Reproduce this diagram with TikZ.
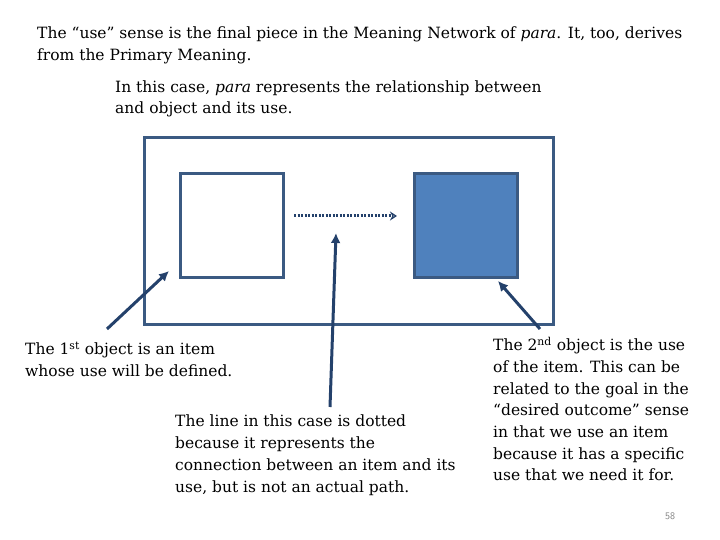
\documentclass[tikz,border=0pt]{standalone}
\usepackage{fontspec}
\setmainfont{DejaVu Serif}
\newfontfamily\topfont{DejaVu Serif}
\newfontfamily\lowfont{DejaVu Serif}
\usetikzlibrary{arrows.meta}
\definecolor{outl}{HTML}{3B5A82}
\definecolor{fillb}{HTML}{4F81BD}
\definecolor{arr}{HTML}{24416B}
\tikzset{
  toptext/.style={anchor=base west, inner sep=0pt, font=\topfont\fontsize{15.5}{22}\selectfont},
  lowtext/.style={anchor=north west, inner sep=0pt, align=left, font=\lowfont\fontsize{15.5}{21.7}\selectfont},
  box/.style={draw=outl, line width=3pt},
  pointer/.style={draw=arr, line width=3pt, -{Latex[length=10pt,width=10pt]}},
}
\begin{document}
\begin{tikzpicture}[x=1pt,y=-1pt]
\useasboundingbox (0,0) rectangle (720,540);
\node[toptext] (t1) at (37,39) {The “use” sense is the final piece in the Meaning Network of \textit{para}. It, too, derives};
\node[toptext] (t2) at (37,61) {from the Primary Meaning.};
\node[toptext] (t3) at (115,93) {In this case, \textit{para} represents the relationship between};
\node[toptext] (t4) at (115,114) {and object and its use.};

\draw[box] (144,138) rectangle (553,324);
\node[box, minimum width=103pt, minimum height=103pt, inner sep=0pt] (a) at (231.5,225.5) {};
\node[box, fill=fillb, minimum width=103pt, minimum height=103pt, inner sep=0pt] (b) at (465.5,225.5) {};
\coordinate (ds) at (294,216);
\coordinate (de) at (397,216);
\draw[arr, line width=3pt, dash pattern=on 2pt off 1.5pt, -{Stealth[open, length=7pt, width=9pt, line width=2pt]}] (ds) -- (de);

\node[lowtext] (L) at (25,342) {The 1\textsuperscript{st} object is an item\\whose use will be defined.};
\node[lowtext] (M) at (175,415) {The line in this case is dotted\\because it represents the\\connection between an item and its\\use, but is not an actual path.};
\node[lowtext] (R) at (493,337) {The 2\textsuperscript{nd} object is the use\\of the item. This can be\\related to the goal in the\\“desired outcome” sense\\in that we use an item\\because it has a specific\\use that we need it for.};

\coordinate (p1s) at (107,329);
\coordinate (p1e) at (169,271);
\coordinate (p2s) at (330,407);
\coordinate (p2e) at (336,233);
\coordinate (p3s) at (540,329);
\coordinate (p3e) at (498,281);
\draw[pointer] (p1s) -- (p1e);
\draw[pointer] (p2s) -- (p2e);
\draw[pointer] (p3s) -- (p3e);

\node[anchor=base, inner sep=0pt, text=gray, font=\sffamily\fontsize{10}{12}\selectfont] (pg) at (670,519) {58};
\end{tikzpicture}
\end{document}
